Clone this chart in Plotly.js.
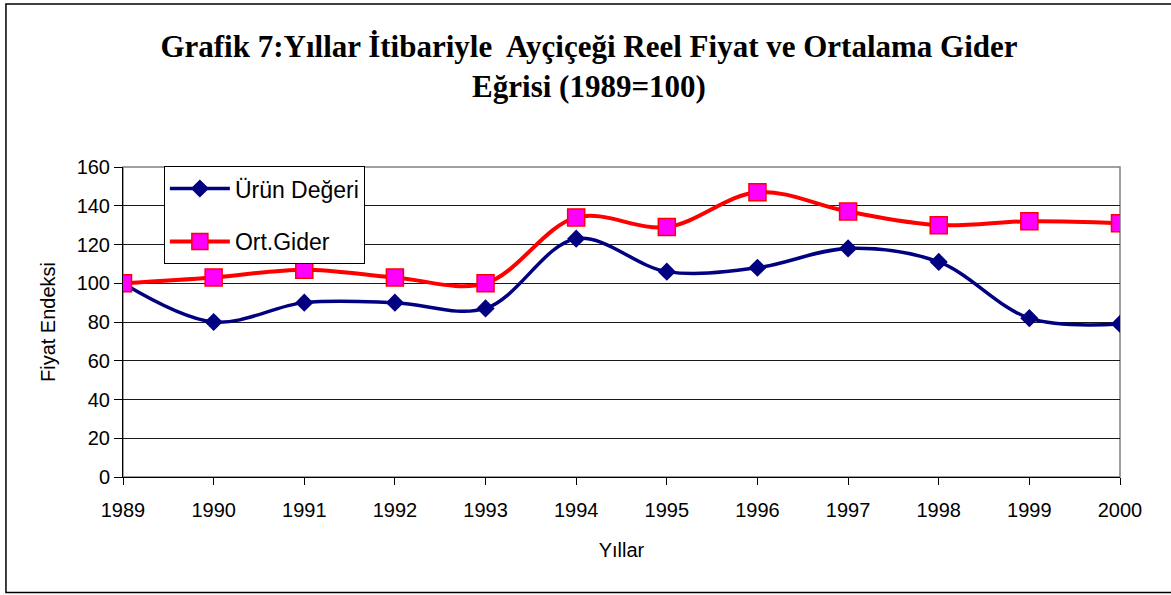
<!DOCTYPE html>
<html>
<head>
<meta charset="utf-8">
<script src="https://cdn.plot.ly/plotly-3.0.1.min.js"></script>
<style>
html,body{margin:0;padding:0;background:#fff;}
#chart{width:1171px;height:595px;}
</style>
</head>
<body>
<div id="chart"></div>
<script>
var years = ["1989","1990","1991","1992","1993","1994","1995","1996","1997","1998","1999","2000"];
var urunDegeri = [100, 80, 90, 90, 87, 123, 106, 108, 118, 111, 82, 79];
var ortGider = [100, 103, 107, 103, 100, 134, 129, 147, 137, 130, 132, 131];
var yTicks = [0, 20, 40, 60, 80, 100, 120, 140, 160];

var FONT = "Liberation Sans, Arial, sans-serif";

var traces = [
  {
    x: years, y: urunDegeri, name: "Ürün Değeri", type: "scatter", mode: "lines+markers",
    legendgroup: "a",
    line: {color: "#000080", width: 3.5, shape: "spline", smoothing: 1},
    marker: {symbol: "diamond", size: 14, color: "#000080", line: {width: 0}}
  },
  {
    x: years, y: ortGider, name: "Ort.Gider", type: "scatter", mode: "lines+markers",
    legendgroup: "b",
    line: {color: "#FF0000", width: 4, shape: "spline", smoothing: 1},
    marker: {symbol: "square", size: 17, color: "#FF00FF", line: {color: "#FF0000", width: 1.5}}
  }
];

var layout = {
  width: 1171, height: 595,
  margin: {l: 123, r: 51, t: 167, b: 118},
  paper_bgcolor: "#fff", plot_bgcolor: "#fff",
  font: {family: FONT, size: 20, color: "#000"},
  title: {
    text: "Grafik 7:Yıllar İtibariyle  Ayçiçeği Reel Fiyat ve Ortalama Gider<br>Eğrisi (1989=100)",
    font: {family: "Liberation Serif, Times New Roman, serif", size: 31, color: "#000", weight: "bold"},
    x: 0.503, xanchor: "center", xref: "container",
    y: 0.905, yanchor: "top", yref: "container"
  },
  xaxis: {
    type: "category",
    categoryorder: "array", categoryarray: years,
    range: [0, years.length - 1],
    showgrid: false, zeroline: false,
    showline: true, linecolor: "#000", linewidth: 1,
    ticks: "outside", ticklen: 7, tickcolor: "#000", tickwidth: 1,
    ticklabelstandoff: 8,
    tickfont: {family: FONT, size: 20, color: "#000"},
    title: {text: "Yıllar", font: {family: FONT, size: 20, color: "#000"}, standoff: 22},
    fixedrange: true
  },
  yaxis: {
    range: [0, 160],
    tickvals: yTicks,
    showgrid: true, gridcolor: "#1a1a1a", gridwidth: 1,
    zeroline: false,
    showline: true, linecolor: "#000", linewidth: 1,
    ticks: "outside", ticklen: 8, tickcolor: "#000", tickwidth: 1,
    tickfont: {family: FONT, size: 20, color: "#000"},
    title: {text: "Fiyat Endeksi", font: {family: FONT, size: 20, color: "#000"}, standoff: 15},
    fixedrange: true
  },
  showlegend: true,
  legend: {
    x: 0.041, xanchor: "left", xref: "paper",
    y: 1.003, yanchor: "top", yref: "paper",
    bgcolor: "#fff", bordercolor: "#000", borderwidth: 1,
    font: {family: FONT, size: 23, color: "#000"},
    traceorder: "grouped", tracegroupgap: 20,
    itemwidth: 60
  },
  shapes: [
    {type: "rect", xref: "paper", yref: "paper", x0: 0, x1: 1, y0: 0, y1: 1,
     line: {color: "#808080", width: 1.5}, layer: "below"},
    {type: "rect", xref: "paper", yref: "paper", x0: -0.1174, x1: 1.055, y0: -0.3726, y1: 1.526,
     line: {color: "#000", width: 1.5}, layer: "below"}
  ]
};

Plotly.newPlot("chart", traces, layout, {displayModeBar: false, staticPlot: true});
</script>
</body>
</html>
